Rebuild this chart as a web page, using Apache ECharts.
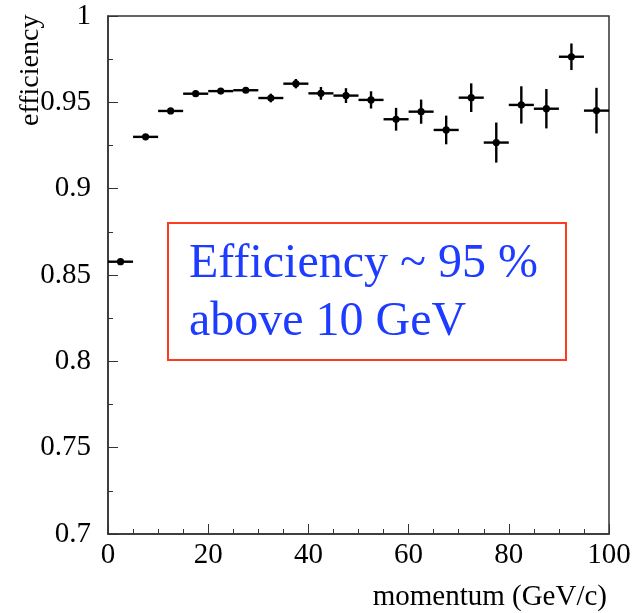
<!DOCTYPE html>
<html>
<head>
<meta charset="utf-8">
<script src="https://cdn.jsdelivr.net/npm/echarts@6/dist/echarts.min.js"></script>
<style>
html,body{margin:0;padding:0;background:#fff;}
#chart{width:635px;height:613px;}
</style>
</head>
<body>
<div id="chart"></div>
<script>
// ---- data ----
const momentum = [2.5, 7.5, 12.5, 17.5, 22.5, 27.5, 32.5, 37.5, 42.5, 47.5, 52.5, 57.5, 62.5, 67.5, 72.5, 77.5, 82.5, 87.5, 92.5, 97.5];
const efficiency = [0.8577, 0.930, 0.945, 0.955, 0.9565, 0.957, 0.9525, 0.9608, 0.9552, 0.9539, 0.9514, 0.9402, 0.9446, 0.934, 0.9527, 0.9267, 0.9485, 0.9463, 0.9764, 0.9452];
const effError = [0.0008, 0.001, 0.001, 0.0012, 0.0012, 0.0015, 0.0025, 0.0027, 0.0037, 0.0043, 0.005, 0.0066, 0.007, 0.0083, 0.0083, 0.0116, 0.0108, 0.0114, 0.0077, 0.0132];
const binHalfWidth = 2.5;
const xTicks = [0, 20, 40, 60, 80, 100];
const yTicks = [0.7, 0.75, 0.8, 0.85, 0.9, 0.95, 1];
const xTitle = 'momentum (GeV/c)';
const yTitle = 'efficiency';
const noteLines = ['Efficiency ~ 95 %', 'above 10 GeV'];

const seriesData = momentum.map((m, i) => [m, efficiency[i], effError[i]]);

const chart = echarts.init(document.getElementById('chart'));
const serif = '"Liberation Serif", "DejaVu Serif", serif';

function renderItem(params, api) {
  const x = api.value(0), y = api.value(1), e = api.value(2);
  const pL = api.coord([x - binHalfWidth, y]);
  const pR = api.coord([x + binHalfWidth, y]);
  const pT = api.coord([x, y + e]);
  const pB = api.coord([x, y - e]);
  const c = api.coord([x, y]);
  const st = {stroke: '#000', lineWidth: 2.4};
  return {
    type: 'group',
    children: [
      {type: 'line', shape: {x1: pL[0], y1: pL[1], x2: pR[0], y2: pR[1]}, style: st},
      {type: 'line', shape: {x1: pT[0], y1: pT[1], x2: pB[0], y2: pB[1]}, style: st},
      {type: 'circle', shape: {cx: c[0], cy: c[1], r: 3.6}, style: {fill: '#000'}}
    ]
  };
}

const option = {
  animation: false,
  backgroundColor: '#fff',
  grid: {left: 108, right: 26, top: 16, bottom: 79, show: true, borderColor: '#333', borderWidth: 1.5, backgroundColor: 'transparent'},
  xAxis: {
    type: 'value', min: xTicks[0], max: xTicks[xTicks.length - 1], interval: 20,
    axisLine: {show: true, onZero: false, lineStyle: {color: '#333', width: 1.5}},
    axisTick: {show: true, inside: true, length: 10, lineStyle: {color: '#333', width: 1}},
    minorTick: {show: true, splitNumber: 4, length: 5, lineStyle: {color: '#333', width: 1}},
    splitLine: {show: false},
    axisLabel: {color: '#000', fontFamily: serif, fontSize: 29, margin: 7, showMinLabel: true, showMaxLabel: true}
  },
  yAxis: {
    type: 'value', min: yTicks[0], max: yTicks[yTicks.length - 1], interval: 0.05,
    axisLine: {show: true, onZero: false, lineStyle: {color: '#333', width: 1.5}},
    axisTick: {show: true, inside: true, length: 10, lineStyle: {color: '#333', width: 1}},
    minorTick: {show: true, splitNumber: 2, length: 5, lineStyle: {color: '#333', width: 1}},
    splitLine: {show: false},
    axisLabel: {color: '#000', fontFamily: serif, fontSize: 29, margin: 17, formatter: v => String(+v.toFixed(2))}
  },
  series: [{
    type: 'custom',
    renderItem: renderItem,
    data: seriesData,
    encode: {x: 0, y: 1},
    clip: false
  }],
  graphic: [
    {type: 'text', x: 17, y: 126, rotation: Math.PI / 2,
      style: {text: yTitle, font: '28px ' + serif, fill: '#000', textAlign: 'left', textVerticalAlign: 'top'}},
    {type: 'text', x: 607, y: 597,
      style: {text: xTitle, font: '29px ' + serif, fill: '#000', textAlign: 'right', textVerticalAlign: 'middle'}},
    {type: 'rect', shape: {x: 168, y: 223, width: 398, height: 137},
      style: {fill: '#fff', stroke: '#ff3b1f', lineWidth: 2}},
    {type: 'text', x: 189, y: 264,
      style: {text: noteLines[0], font: '48px ' + serif, fill: '#1e3cff', textAlign: 'left', textVerticalAlign: 'middle'}},
    {type: 'text', x: 189, y: 322,
      style: {text: noteLines[1], font: '48px ' + serif, fill: '#1e3cff', textAlign: 'left', textVerticalAlign: 'middle'}}
  ]
};
chart.setOption(option);
</script>
</body>
</html>
